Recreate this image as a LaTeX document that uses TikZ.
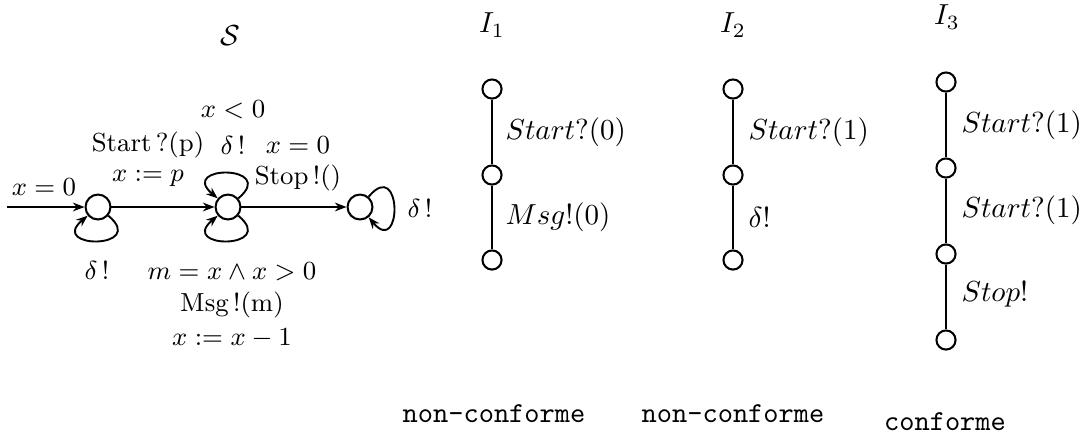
\documentclass[tikz,border=0pt]{standalone}
\usetikzlibrary{arrows.meta}
\begin{document}
\begin{tikzpicture}[x=0.345pt,y=-0.345pt,
  st/.style={circle,draw,line width=0.7pt,minimum size=8.6pt,inner sep=0pt},
  tr/.style={circle,draw,line width=0.7pt,minimum size=6.6pt,inner sep=0pt},
  arr/.style={-{Stealth[length=4pt,width=3pt]},line width=0.65pt},
  seg/.style={line width=0.7pt},
  lab/.style={font=\small,inner sep=0pt},
  ilab/.style={anchor=west,inner sep=0pt},
  res/.style={font=\ttfamily,inner sep=0pt}]
\useasboundingbox (0,0) rectangle (1083,433);
% automaton S
\node (S) at (230,36) {$\mathcal{S}$};
\node[st] (q0) at (98,207) {};
\node[st] (q1) at (228,207) {};
\node[st] (q2) at (360,207) {};
\coordinate (init) at (7,207);
\draw[arr] (init) -- (q0);
\draw[arr] (q0) -- (q1);
\draw[arr] (q1) -- (q2);
\draw[arr] (q0) to[out=-40,in=-140,looseness=6.5] (q0);
\draw[arr] (q1) to[out=40,in=140,looseness=6.5] (q1);
\draw[arr] (q1) to[out=-40,in=-140,looseness=6.5] (q1);
\draw[arr] (q2) to[out=50,in=-50,looseness=6.5] (q2);
\node[lab] (l0) at (44,187) {$x=0$};
\node[lab] (l1) at (148,145) {Start\,?(p)};
\node[lab] (l2) at (148,178) {$x:=p$};
\node[lab] (l3) at (233,110) {$x<0$};
\node[lab] (l4) at (233,145) {$\delta\,!$};
\node[lab] (l5) at (298,145) {$x=0$};
\node[lab] (l6) at (298,178) {Stop\,!()};
\node[lab] (l7) at (420,208) {$\delta\,!$};
\node[lab] (l8) at (97,270) {$\delta\,!$};
\node[lab] (l9) at (232,272) {$m=x\wedge x>0$};
\node[lab] (l10) at (232,305) {Msg\,!(m)};
\node[lab] (l11) at (232,338) {$x:=x-1$};
% I1
\node (T1) at (492,25) {$I_1$};
\node[tr] (a1) at (492,89) {};
\node[tr] (a2) at (492,175) {};
\node[tr] (a3) at (492,260) {};
\draw[seg] (a1) -- (a2);
\draw[seg] (a2) -- (a3);
\node[ilab] (la1) at (505,132) {$Start?(0)$};
\node[ilab] (la2) at (505,217) {$Msg!(0)$};
% I2
\node (T2) at (733,25) {$I_2$};
\node[tr] (b1) at (733,89) {};
\node[tr] (b2) at (733,175) {};
\node[tr] (b3) at (733,260) {};
\draw[seg] (b1) -- (b2);
\draw[seg] (b2) -- (b3);
\node[ilab] (lb1) at (748,132) {$Start?(1)$};
\node[ilab] (lb2) at (748,217) {$\delta!$};
% I3
\node (T3) at (947,17) {$I_3$};
\node[tr] (c1) at (946,82) {};
\node[tr] (c2) at (946,168) {};
\node[tr] (c3) at (946,254) {};
\node[tr] (c4) at (946,340) {};
\draw[seg] (c1) -- (c2);
\draw[seg] (c2) -- (c3);
\draw[seg] (c3) -- (c4);
\node[ilab] (lc1) at (961,125) {$Start?(1)$};
\node[ilab] (lc2) at (961,210) {$Start?(1)$};
\node[ilab] (lc3) at (961,294) {$Stop!$};
% results
\node[res] (r1) at (494,414) {non-conforme};
\node[res] (r2) at (733,414) {non-conforme};
\node[res] (r3) at (945,422) {conforme};
\end{tikzpicture}
\end{document}
